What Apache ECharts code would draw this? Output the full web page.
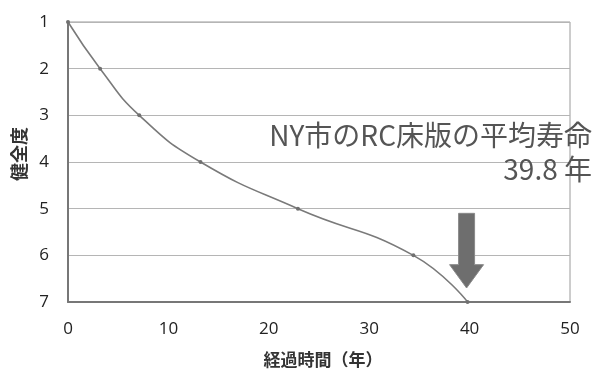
<!DOCTYPE html>
<html>
<head>
<meta charset="utf-8">
<script src="https://cdn.jsdelivr.net/npm/echarts@6/dist/echarts.min.js"></script>
<style>
html,body{margin:0;padding:0;background:#fff;}
#chart{width:595px;height:369px;}
</style>
</head>
<body>
<div id="chart"></div>
<script>
// 経過年数と健全度
const elapsedYears = [0, 3.2, 7.1, 13.2, 22.9, 34.4, 39.8];
const soundness = [1, 2, 3, 4, 5, 6, 7];
const xTicks = { min: 0, max: 50, interval: 10 };
const yTicks = { min: 1, max: 7, interval: 1 };
const lifeYears = 39.8;
const noteLines = ['NY市のRC床版の平均寿命', lifeYears + ' 年'];

const points = elapsedYears.map((x, i) => [x, soundness[i]]);
const jpFont = '"Noto Sans CJK JP", "Noto Sans", sans-serif';
const noteFont = '"Noto Sans CJK JP", sans-serif';

const chart = echarts.init(document.getElementById('chart'));
chart.setOption({
  animation: false,
  backgroundColor: '#fff',
  grid: {
    left: 68, right: 25, top: 22, bottom: 67,
    outerBoundsMode: 'none', containLabel: false,
    show: true, borderColor: '#9a9a9a', borderWidth: 1
  },
  xAxis: {
    type: 'value', min: xTicks.min, max: xTicks.max, interval: xTicks.interval,
    name: '経過時間（年）', nameLocation: 'middle', nameGap: 49,
    nameTextStyle: { fontFamily: jpFont, fontSize: 17, color: '#333', fontWeight: 'bold', padding: [0, 0, 0, 8] },
    axisLine: { lineStyle: { color: '#777', width: 2 } },
    axisTick: { show: false },
    axisLabel: { margin: 19, fontSize: 17, color: '#222', fontFamily: '"Open Sans", sans-serif' },
    splitLine: { show: false }
  },
  yAxis: {
    type: 'value', inverse: true, min: yTicks.min, max: yTicks.max, interval: yTicks.interval,
    name: '健全度', nameLocation: 'middle', nameGap: 29, nameRotate: 90,
    nameTextStyle: { fontFamily: jpFont, fontSize: 18, color: '#333', fontWeight: 'bold', padding: [0, 0, 0, 16] },
    axisLine: { show: true, lineStyle: { color: '#777', width: 2 } },
    axisTick: { show: false },
    axisLabel: { margin: 19, fontSize: 17, color: '#222', fontFamily: '"Open Sans", sans-serif' },
    splitLine: { show: true, lineStyle: { color: '#b5b5b5', width: 1.2 } }
  },
  series: [{
    type: 'line',
    data: points,
    smooth: 0.5,
    symbol: 'circle',
    symbolSize: 4,
    itemStyle: { color: '#707070' },
    lineStyle: { color: '#7a7a7a', width: 1.6 }
  }]
});

// 平均寿命を指す矢印と注記
function drawNote() {
  const top = chart.convertToPixel({ gridIndex: 0 }, [lifeYears, 5.1]);
  const headStart = chart.convertToPixel({ gridIndex: 0 }, [lifeYears, 6.2]);
  const tip = chart.convertToPixel({ gridIndex: 0 }, [lifeYears, 6.7]);
  const cx = top[0] - 1;
  const shaft = 8, head = 17;
  chart.setOption({
    graphic: [
      {
        type: 'polygon',
        shape: { points: [
          [cx - shaft, top[1]], [cx + shaft, top[1]], [cx + shaft, headStart[1]],
          [cx + head, headStart[1]], [cx, tip[1]], [cx - head, headStart[1]],
          [cx - shaft, headStart[1]]
        ] },
        style: { fill: '#6e6e6e', stroke: '#8a8a8a', lineWidth: 1 }
      },
      {
        type: 'text', right: 3, top: 121,
        style: { text: noteLines[0], font: '28px ' + noteFont, fill: '#555', textAlign: 'right' }
      },
      {
        type: 'text', right: 3, top: 155,
        style: { text: noteLines[1], font: '28px ' + noteFont, fill: '#555', textAlign: 'right' }
      }
    ]
  });
}
drawNote();
</script>
</body>
</html>
